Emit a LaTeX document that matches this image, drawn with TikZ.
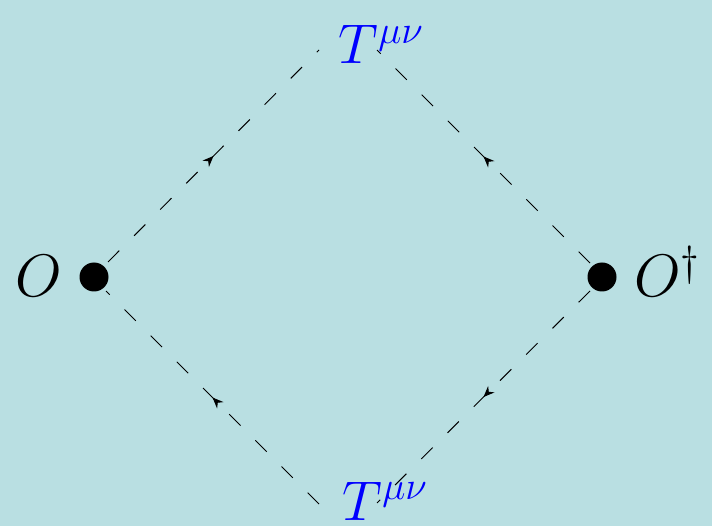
\RequirePackage{fix-cm}
\documentclass[tikz,border=0pt]{standalone}
\usetikzlibrary{decorations.markings,arrows.meta}
\definecolor{bgc}{RGB}{185,223,226}
\definecolor{tblue}{RGB}{0,0,255}
\begin{document}
\begin{tikzpicture}[x=1pt,y=-1pt,
  vdot/.style={circle,fill=black,inner sep=0pt,minimum size=29pt},
  lbl/.style={font=\fontsize{60}{72}\selectfont,inner sep=0pt},
  tlbl/.style={font=\fontsize{56}{66}\selectfont,inner sep=0pt,text=tblue},
  prop/.style={line width=1pt,dash pattern=on 16pt off 21pt,
    postaction={decorate},
    decoration={markings,mark=at position 0.5 with {\arrow{Stealth[length=11pt,width=9pt]}}}}]
\fill[bgc] (0,0) rectangle (712,526);
\useasboundingbox (0,0) rectangle (712,526);
% vertices
\node[vdot] (O) at (94,277) {};
\node[vdot] (Od) at (602,277) {};
\node[lbl,anchor=base west] (Olbl) at (15,297) {$O$};
\node[lbl,anchor=base west] (Odlbl) at (634,297) {$O^{\dagger}$};
\node[tlbl,anchor=base] (Ttop) at (381,64) {$T^{\mu\nu}$};
\node[tlbl,anchor=base] (Tbot) at (385,520) {$T^{\mu\nu}$};
% line ends
\coordinate (tl1) at (108,262);
\coordinate (tl2) at (319,50);
\coordinate (tr1) at (590,263);
\coordinate (tr2) at (377,50);
\coordinate (bl1) at (319,504);
\coordinate (bl2) at (106,291);
\coordinate (br1) at (590,291);
\coordinate (br2) at (377,503);
% propagators
\draw[prop] (tl1) -- (tl2);
\draw[prop] (tr1) -- (tr2);
\draw[prop] (bl1) -- (bl2);
\draw[prop] (br1) -- (br2);
\end{tikzpicture}
\end{document}
